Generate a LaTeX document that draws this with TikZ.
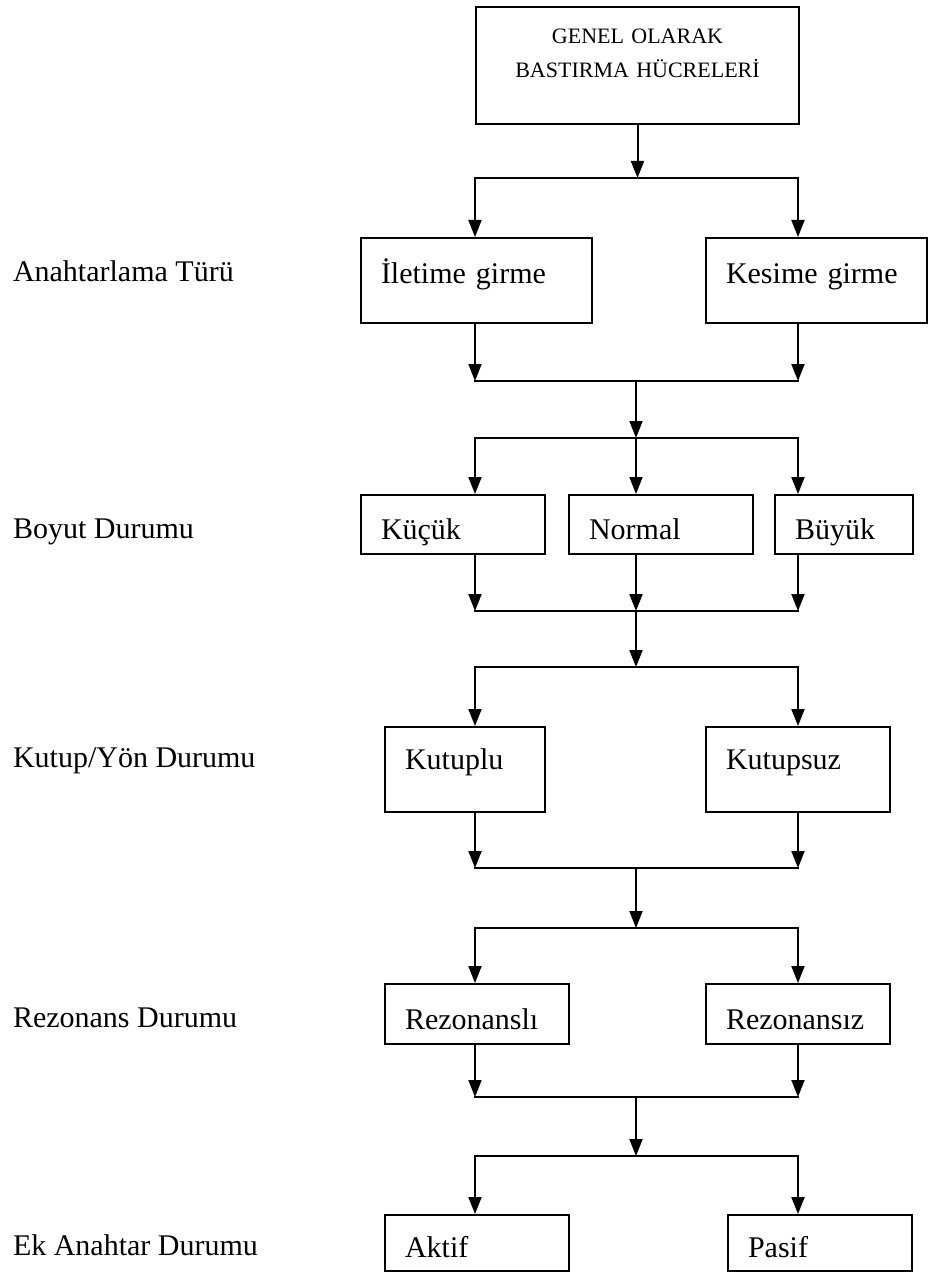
\documentclass[tikz,border=0pt]{standalone}
\usepackage{fontspec}
\setmainfont{Liberation Serif}
\usetikzlibrary{arrows.meta}

\begin{document}
\begin{tikzpicture}[x=0.5pt,y=-0.5pt,line width=1pt]

	\tikzstyle{kutu} = [draw,anchor=north west,align=left,inner xsep=10pt,inner ysep=0pt,font=\fontsize{15}{18}\selectfont]
	\tikzstyle{etiket} = [anchor=base west,inner sep=0pt,font=\fontsize{15}{18}\selectfont]
	\tikzstyle{ok} = [-{Triangle[width=6.5pt,length=8.5pt]}]

	\path[fill=white,use as bounding box] (0,0) rectangle (930,1273);

	% ana kutu
	\node[kutu,align=center,text width=141.5pt,text height=18.5pt,text depth=40pt,font=\fontsize{11}{17}\selectfont] (genel) at (475,6) {GENEL OLARAK\\BASTIRMA HÜCRELERİ\hspace*{15pt}};

	% sol taraftaki basliklar
	\node[etiket] (anahtar) at (12,281) {Anahtarlama Türü};
	\node[etiket] (boyut) at (12,538) {Boyut Durumu};
	\node[etiket] (kutup) at (12,767) {Kutup/Yön Durumu};
	\node[etiket] (rezonans) at (12,1027) {Rezonans Durumu};
	\node[etiket] (ekanahtar) at (12,1255) {Ek Anahtar Durumu};

	% kutular
	\node[kutu,text width=95.5pt,text height=23pt,text depth=19.5pt] (ilet) at (360,237) {İletime girme};
	\node[kutu,text width=90.5pt,text height=23pt,text depth=19.5pt] (kes) at (705,237) {Kesime girme};

	\node[kutu,text width=72pt,text height=22pt,text depth=7.5pt] (kucuk) at (360,494) {Küçük};
	\node[kutu,text width=72pt,text height=22pt,text depth=7.5pt] (normal) at (568,494) {Normal};
	\node[kutu,text width=49pt,text height=22pt,text depth=7.5pt] (buyuk) at (774,494) {Büyük};

	\node[kutu,text width=60pt,text height=21pt,text depth=21.5pt] (kutuplu) at (384,726) {Kutuplu};
	\node[kutu,text width=72pt,text height=21pt,text depth=21.5pt] (kutupsuz) at (705,726) {Kutupsuz};

	\node[kutu,text width=72pt,text height=22.5pt,text depth=7.5pt] (rezli) at (384,983) {Rezonanslı};
	\node[kutu,text width=72pt,text height=22.5pt,text depth=7.5pt] (rezsiz) at (705,983) {Rezonansız};

	\node[kutu,text width=72pt,text height=21pt,text depth=7pt] (aktif) at (384,1214) {Aktif};
	\node[kutu,text width=72pt,text height=21pt,text depth=7pt] (pasif) at (727,1214) {Pasif};

	% dallanma 1
	\coordinate (d1sol) at (475,178);
	\coordinate (d1sag) at (798,178);
	\draw[ok] (genel.south) -- (genel.south |- d1sol);
	\draw[line cap=rect] (d1sol) -- (d1sag);
	\draw[ok] (d1sol) -- (d1sol |- ilet.north);
	\draw[ok] (d1sag) -- (d1sag |- kes.north);

	% birlesme 1
	\coordinate (b1sol) at (475,381);
	\coordinate (b1orta) at (636,381);
	\coordinate (b1sag) at (798,381);
	\draw[ok] (b1sol |- ilet.south) -- (b1sol);
	\draw[ok] (b1sag |- kes.south) -- (b1sag);
	\draw[line cap=rect] (b1sol) -- (b1sag);

	% dallanma 2
	\coordinate (d2sol) at (475,438);
	\coordinate (d2orta) at (636,438);
	\coordinate (d2sag) at (798,438);
	\draw[ok] (b1orta) -- (d2orta);
	\draw[line cap=rect] (d2sol) -- (d2sag);
	\draw[ok] (d2sol) -- (d2sol |- kucuk.north);
	\draw[ok] (d2orta) -- (d2orta |- normal.north);
	\draw[ok] (d2sag) -- (d2sag |- buyuk.north);

	% birlesme 2
	\coordinate (b2sol) at (475,611);
	\coordinate (b2orta) at (636,611);
	\coordinate (b2sag) at (798,611);
	\draw[ok] (b2sol |- kucuk.south) -- (b2sol);
	\draw[ok] (b2orta |- normal.south) -- (b2orta);
	\draw[ok] (b2sag |- buyuk.south) -- (b2sag);
	\draw[line cap=rect] (b2sol) -- (b2sag);

	% dallanma 3
	\coordinate (d3sol) at (475,667);
	\coordinate (d3orta) at (636,667);
	\coordinate (d3sag) at (798,667);
	\draw[ok] (b2orta) -- (d3orta);
	\draw[line cap=rect] (d3sol) -- (d3sag);
	\draw[ok] (d3sol) -- (d3sol |- kutuplu.north);
	\draw[ok] (d3sag) -- (d3sag |- kutupsuz.north);

	% birlesme 3
	\coordinate (b3sol) at (475,868);
	\coordinate (b3orta) at (636,868);
	\coordinate (b3sag) at (798,868);
	\draw[ok] (b3sol |- kutuplu.south) -- (b3sol);
	\draw[ok] (b3sag |- kutupsuz.south) -- (b3sag);
	\draw[line cap=rect] (b3sol) -- (b3sag);

	% dallanma 4
	\coordinate (d4sol) at (475,928);
	\coordinate (d4orta) at (636,928);
	\coordinate (d4sag) at (798,928);
	\draw[ok] (b3orta) -- (d4orta);
	\draw[line cap=rect] (d4sol) -- (d4sag);
	\draw[ok] (d4sol) -- (d4sol |- rezli.north);
	\draw[ok] (d4sag) -- (d4sag |- rezsiz.north);

	% birlesme 4
	\coordinate (b4sol) at (475,1097);
	\coordinate (b4orta) at (636,1097);
	\coordinate (b4sag) at (798,1097);
	\draw[ok] (b4sol |- rezli.south) -- (b4sol);
	\draw[ok] (b4sag |- rezsiz.south) -- (b4sag);
	\draw[line cap=rect] (b4sol) -- (b4sag);

	% dallanma 5
	\coordinate (d5sol) at (475,1156);
	\coordinate (d5orta) at (636,1156);
	\coordinate (d5sag) at (798,1156);
	\draw[ok] (b4orta) -- (d5orta);
	\draw[line cap=rect] (d5sol) -- (d5sag);
	\draw[ok] (d5sol) -- (d5sol |- aktif.north);
	\draw[ok] (d5sag) -- (d5sag |- pasif.north);

\end{tikzpicture}
\end{document}
